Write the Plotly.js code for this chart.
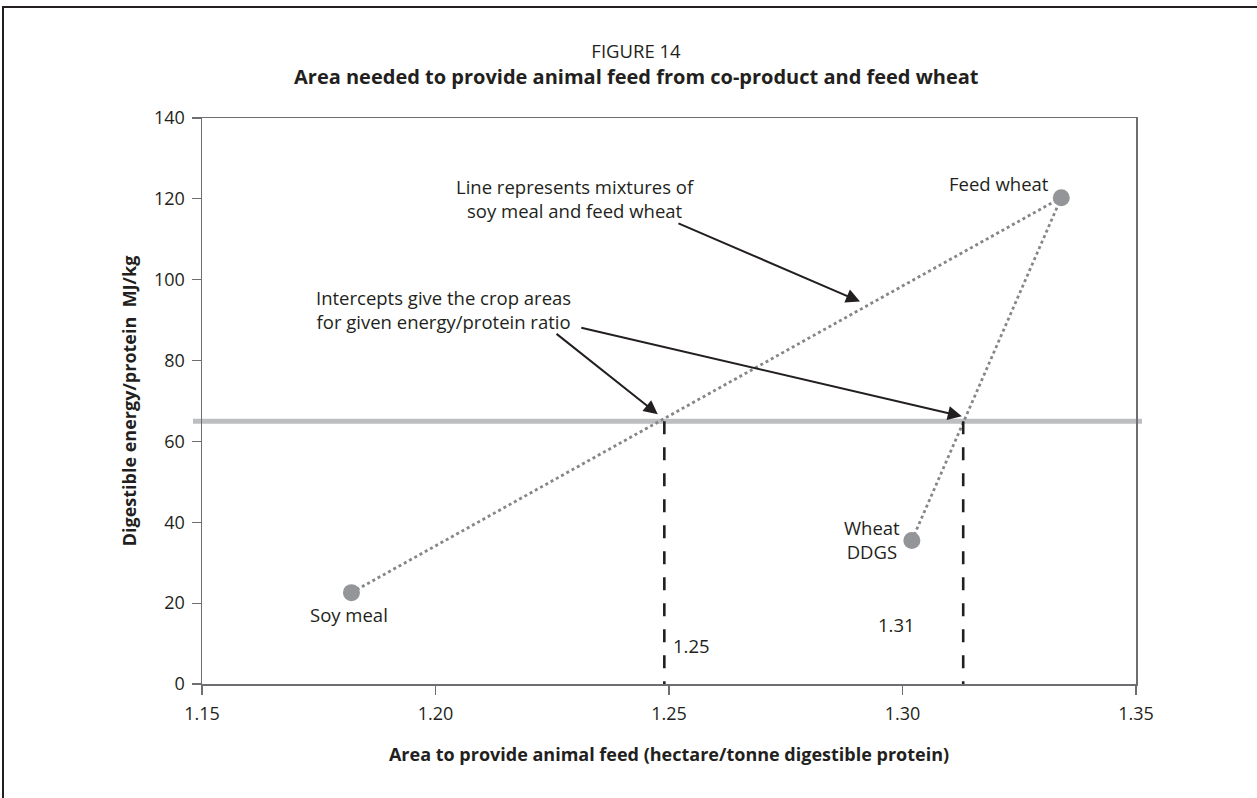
<!DOCTYPE html>
<html>
<head>
<meta charset="utf-8">
<script src="https://cdn.plot.ly/plotly-3.0.1.min.js"></script>
<style>html,body{margin:0;padding:0;background:#fff;}#chart{width:1257px;height:798px;}</style>
</head>
<body>
<div id="chart"></div>
<script>
// ---- data ----
const pointNames = ['Soy meal', 'Wheat DDGS', 'Feed wheat'];
const pointX = [1.182, 1.302, 1.334];
const pointY = [22.6, 35.5, 120.3];
const targetRatio = 65;
const interceptX = [1.249, 1.313];
const interceptLabels = ['1.25', '1.31'];
const xTickVals = [1.15, 1.20, 1.25, 1.30, 1.35];
const xTickText = ['1.15', '1.20', '1.25', '1.30', '1.35'];
const yTickVals = [0, 20, 40, 60, 80, 100, 120, 140];
const figureLabel = 'FIGURE 14';
const chartTitle = 'Area needed to provide animal feed from co-product and feed wheat';
const xTitle = 'Area to provide animal feed (hectare/tonne digestible protein)';
const yTitle = 'Digestible energy/protein  MJ/kg';
const noteMix = 'Line represents mixtures of<br>soy meal and feed wheat';
const noteIntercept = 'Intercepts give the crop areas<br>for given energy/protein ratio';

// ---- layout geometry ----
const W = 1257, H = 798;
const M = {l: 202, r: 121, t: 118, b: 114};
const PW = W - M.l - M.r, PH = H - M.t - M.b;
const px2paperX = p => (p - M.l) / PW;
const px2paperY = p => (H - M.b - p) / PH;

const FONT = 'Open Sans, Noto Sans, sans-serif';
const INK = '#231f20';
const DOT = '#858689';

const soy = 0, ddgs = 1, wheat = 2;
const traces = [
  {x: [pointX[soy], pointX[wheat]], y: [pointY[soy], pointY[wheat]], mode: 'lines',
   line: {color: DOT, width: 2.8, dash: 'dot'}, hoverinfo: 'skip'},
  {x: [pointX[ddgs], pointX[wheat]], y: [pointY[ddgs], pointY[wheat]], mode: 'lines',
   line: {color: DOT, width: 2.8, dash: 'dot'}, hoverinfo: 'skip'}
];
interceptX.forEach(function (xv) {
  traces.push({x: [xv, xv], y: [targetRatio, 0], mode: 'lines',
    line: {color: INK, width: 2.6, dash: '13px,13px'}, hoverinfo: 'skip'});
});
traces.push({x: pointX, y: pointY, text: pointNames, mode: 'markers',
  marker: {color: '#939598', size: 17, line: {width: 0}}, hoverinfo: 'text'});

const annFont = {family: FONT, size: 18.5, color: INK};
const annotations = [
  {text: '<b>' + chartTitle + '</b>', xref: 'paper', yref: 'paper', x: px2paperX(636), y: px2paperY(77),
   xanchor: 'center', yanchor: 'middle', showarrow: false, font: {family: FONT, size: 20, color: INK}},
  {text: pointNames[soy], x: pointX[soy] - 0.0005, y: 17.2, xanchor: 'center', yanchor: 'middle', showarrow: false, font: annFont},
  {text: pointNames[wheat], x: 1.3317, y: 123.8, xanchor: 'right', yanchor: 'middle', showarrow: false, font: annFont},
  {text: 'Wheat<br>DDGS', x: 1.2935, y: 35.7, xanchor: 'center', yanchor: 'middle', align: 'center', showarrow: false, font: annFont},
  {text: interceptLabels[0], x: 1.2505, y: 9.5, xanchor: 'left', yanchor: 'middle', showarrow: false, font: annFont},
  {text: interceptLabels[1], x: 1.2988, y: 14.7, xanchor: 'center', yanchor: 'middle', showarrow: false, font: annFont},
  {text: noteMix, x: 1.2299, y: 120.1, xanchor: 'center', yanchor: 'middle', align: 'center', showarrow: false, font: annFont},
  {text: noteIntercept, x: 1.2295, y: 92.6, xanchor: 'right', yanchor: 'middle', align: 'center', showarrow: false, font: annFont},
  // arrows
  {text: '', x: 1.2909, y: 94.6, ax: 1.2517, ay: 114.1, axref: 'x', ayref: 'y', showarrow: true,
   arrowhead: 2, arrowsize: 1.4, arrowwidth: 2, arrowcolor: INK, standoff: 0},
  {text: '', x: 1.2476, y: 66.7, ax: 1.2256, ay: 86.9, axref: 'x', ayref: 'y', showarrow: true,
   arrowhead: 2, arrowsize: 1.4, arrowwidth: 2, arrowcolor: INK, standoff: 0},
  {text: '', x: 1.3127, y: 66.2, ax: 1.2309, ay: 88.2, axref: 'x', ayref: 'y', showarrow: true,
   arrowhead: 2, arrowsize: 1.4, arrowwidth: 2, arrowcolor: INK, standoff: 0}
];

const shapes = [
  {type: 'line', xref: 'paper', yref: 'y', x0: px2paperX(193), x1: px2paperX(1142), y0: targetRatio, y1: targetRatio,
   line: {color: '#bcbec0', width: 5}, layer: 'below'},
  // page frame
  {type: 'line', xref: 'paper', yref: 'paper', x0: px2paperX(3), x1: px2paperX(1257), y0: px2paperY(7), y1: px2paperY(7),
   line: {color: INK, width: 2}},
  {type: 'line', xref: 'paper', yref: 'paper', x0: px2paperX(3), x1: px2paperX(3), y0: px2paperY(6), y1: px2paperY(798),
   line: {color: INK, width: 2}}
];

const axisCommon = {
  showline: true, mirror: true, linecolor: '#6d6e71', linewidth: 1.5,
  showgrid: false, zeroline: false, ticks: 'outside', ticklen: 9, tickwidth: 1.2, tickcolor: '#6d6e71',
  tickfont: {family: FONT, size: 18, color: INK}, fixedrange: true
};

const layout = {
  width: W, height: H, margin: M,
  paper_bgcolor: '#ffffff', plot_bgcolor: '#ffffff', showlegend: false,
  title: {text: figureLabel, font: {family: FONT, size: 18.5, color: INK},
          xref: 'paper', x: px2paperX(636), xanchor: 'center', yref: 'container', y: 1 - 52 / H, yanchor: 'middle'},
  xaxis: Object.assign({}, axisCommon, {range: [1.15, 1.35], tickvals: xTickVals, ticktext: xTickText,
    ticklabelstandoff: 4,
    title: {text: '<b>' + xTitle + '</b>', font: {family: FONT, size: 18, color: INK}, standoff: 24}}),
  yaxis: Object.assign({}, axisCommon, {range: [0, 140], tickvals: yTickVals,
    ticklabelstandoff: 3,
    title: {text: '<b>' + yTitle + '</b>', font: {family: FONT, size: 18, color: INK}, standoff: 12}}),
  annotations: annotations, shapes: shapes
};

Plotly.newPlot('chart', traces, layout, {displayModeBar: false, staticPlot: true});
</script>
</body>
</html>
